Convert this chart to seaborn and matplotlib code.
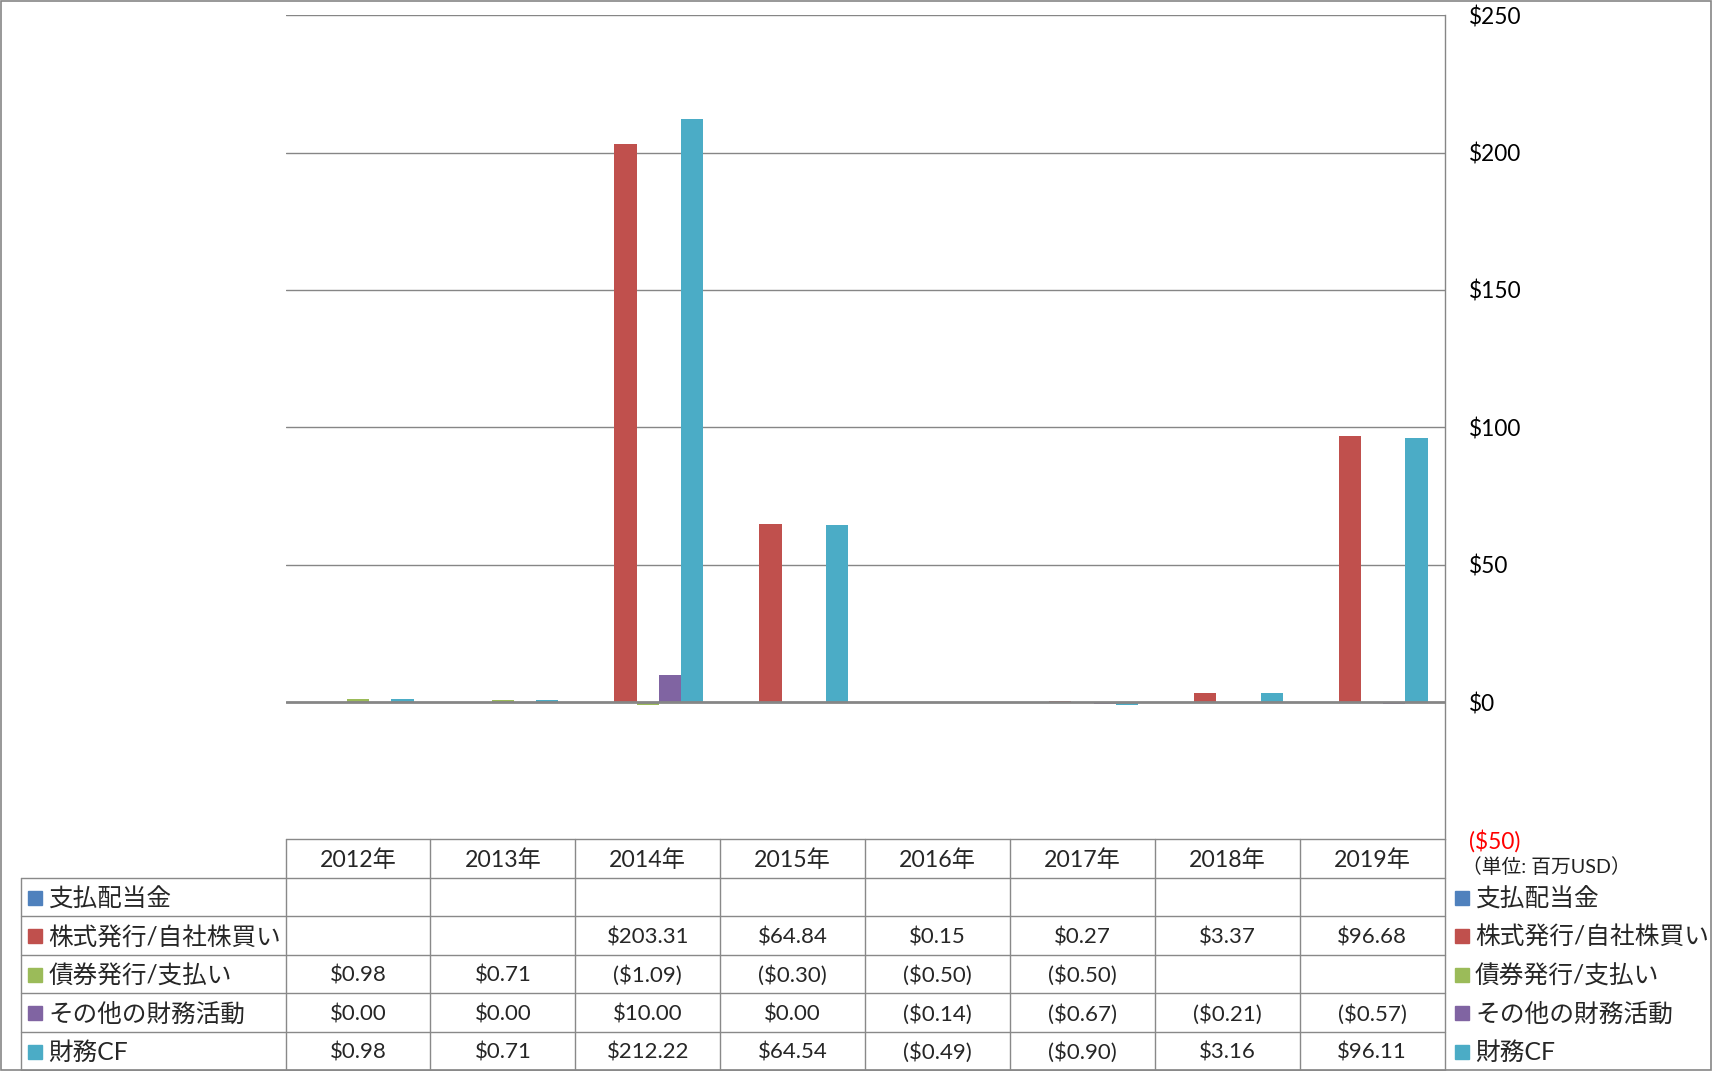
import numpy as np
import pandas as pd
import matplotlib
matplotlib.use("Agg")
import matplotlib.pyplot as plt
from matplotlib.patches import Rectangle
from matplotlib.lines import Line2D
from matplotlib.transforms import blended_transform_factory
import seaborn as sns

# ---------------- data ----------------
years = ["2012年", "2013年", "2014年", "2015年", "2016年", "2017年", "2018年", "2019年"]
series_names = ["支払配当金", "株式発行/自社株買い", "債券発行/支払い", "その他の財務活動", "財務CF"]
dividends = [np.nan] * 8
equity = [np.nan, np.nan, 203.31, 64.84, 0.15, 0.27, 3.37, 96.68]
debt = [0.98, 0.71, -1.09, -0.30, -0.50, -0.50, np.nan, np.nan]
other = [0.00, 0.00, 10.00, 0.00, -0.14, -0.67, -0.21, -0.57]
fin_cf = [0.98, 0.71, 212.22, 64.54, -0.49, -0.90, 3.16, 96.11]
series_values = [dividends, equity, debt, other, fin_cf]
colors = ["#4F81BD", "#C0504D", "#9BBB59", "#8064A2", "#4BACC6"]
yticks = [-50, 0, 50, 100, 150, 200, 250]
ytick_labels = ["($50)", "$0", "$50", "$100", "$150", "$200", "$250"]
unit_label = "（単位: 百万USD）"

rows = []
for name, vals in zip(series_names, series_values):
    for y, v in zip(years, vals):
        rows.append({"year": y, "series": name, "value": v})
df = pd.DataFrame(rows)

# ---------------- style ----------------
sns.set_style("white")
plt.rcParams["font.family"] = ["Lato", "Noto Sans CJK JP", "DejaVu Sans"]
plt.rcParams["text.parse_math"] = False

W, H = 1716, 1071
fig = plt.figure(figsize=(W / 100, H / 100), dpi=100)

def fx(px):
    return px / W

def fy(py):
    return 1 - py / H

ax_left, ax_right, ax_top, ax_bottom = 285.6, 1444.6, 15.3, 839.4
ax = fig.add_axes([fx(ax_left), fy(ax_bottom), fx(ax_right - ax_left), (ax_bottom - ax_top) / H])

sns.barplot(data=df, x="year", y="value", hue="series", order=years, hue_order=series_names,
            palette=dict(zip(series_names, colors)), width=0.767, saturation=1,
            errorbar=None, linewidth=0, legend=False, ax=ax)

ax.set_xlim(-0.5, len(years) - 0.5)
ax.set_ylim(-50, 250)
ax.set_yticks(yticks)
ax.set_yticklabels(ytick_labels)
ax.yaxis.tick_right()
ax.tick_params(axis="y", length=0, pad=17.5, labelsize=16.3, colors="black")
ax.tick_params(axis="x", length=0, labelbottom=False)
ax.set_xlabel("")
ax.set_ylabel("")
for lab, v in zip(ax.get_yticklabels(), yticks):
    if v < 0:
        lab.set_color("#FF0000")
for s in ["left", "top", "bottom"]:
    ax.spines[s].set_visible(False)
ax.spines["right"].set_color("#868686")
ax.spines["right"].set_linewidth(1)
ax.yaxis.grid(True, color="#868686", lw=1)
ax.set_axisbelow(True)
for gl, v in zip(ax.get_ygridlines(), yticks):
    if v <= 0:
        gl.set_visible(False)
ax.axhline(0, color="#868686", lw=2, zorder=3)

# ---------------- data table ----------------
line_c = "#898989"
row_h = (1070 - ax_bottom) / 6
row_edges = [ax_bottom + i * row_h for i in range(7)]
row_centers = [(row_edges[i] + row_edges[i + 1]) / 2 for i in range(6)]
tr = blended_transform_factory(ax.transData, fig.transFigure)

# horizontal lines
fig.add_artist(Line2D([fx(ax_left), fx(ax_right)], [fy(row_edges[0])] * 2, color=line_c, lw=1))
for e in row_edges[1:]:
    fig.add_artist(Line2D([fx(20.5), fx(ax_right)], [fy(e)] * 2, color=line_c, lw=1))
# vertical lines
fig.add_artist(Line2D([fx(20.5)] * 2, [fy(row_edges[1]), fy(row_edges[-1])], color=line_c, lw=1))
for i in range(len(years) + 1):
    fig.add_artist(Line2D([i - 0.5] * 2, [fy(row_edges[0]), fy(row_edges[-1])],
                          transform=tr, color=line_c, lw=1))

# header
for i, y in enumerate(years):
    fig.text(i, fy(row_centers[0] + 2), y, transform=tr, ha="center", va="center", fontsize=16.7)

def fmt(v):
    if v is None or (isinstance(v, float) and np.isnan(v)):
        return ""
    if v < 0:
        return "(${:.2f})".format(-v)
    return "${:.2f}".format(v)

for r, (name, vals, c) in enumerate(zip(series_names, series_values, colors)):
    yc = row_centers[r + 1]
    fig.add_artist(Rectangle((fx(28), fy(yc + 8)), fx(14), 14 / H, color=c))
    fig.text(fx(48.5), fy(yc + 2), name, ha="left", va="center", fontsize=17.7)
    for i, v in enumerate(vals):
        fig.text(i, fy(yc + 2), fmt(v), transform=tr, ha="center", va="center", fontsize=16)
    # right legend
    fig.add_artist(Rectangle((fx(1455), fy(yc + 8)), fx(14), 14 / H, color=c))
    fig.text(fx(1475), fy(yc + 2), name, ha="left", va="center", fontsize=17.8)

fig.text(fx(1462), fy(867), unit_label, ha="left", va="center", fontsize=14.2, color="#202020")

# outer border
fig.add_artist(Rectangle((fx(0.5), fy(1069.5)), fx(1710.5), 1069 / H, fill=False,
                         edgecolor="#868686", lw=1.2))

fig.savefig("out.png", dpi=100)
